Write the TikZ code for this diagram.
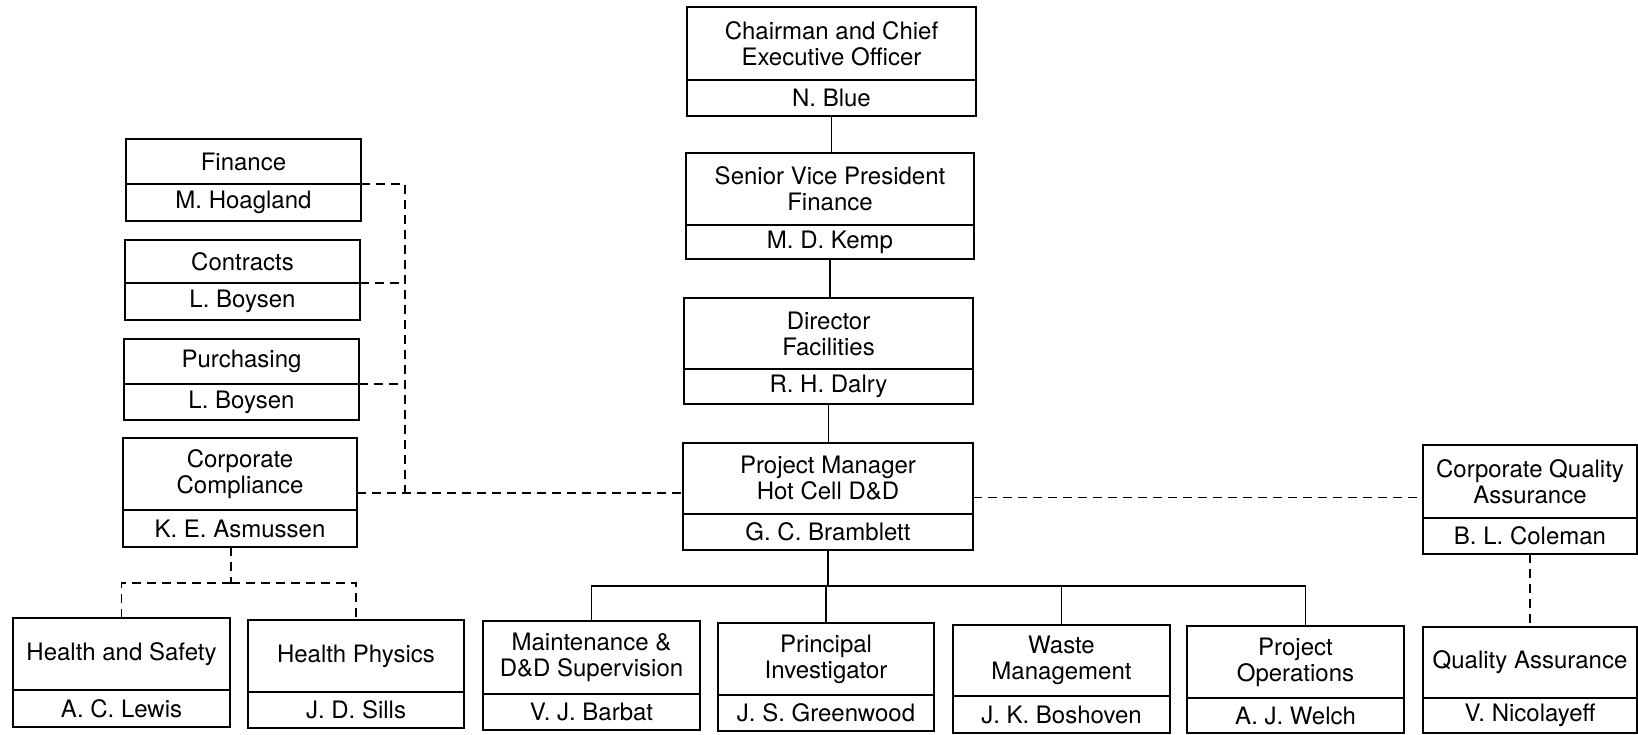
\documentclass[tikz,border=0pt]{standalone}
\usepackage{fontspec}
\setmainfont{TeX Gyre Heros}
\usepackage{tikz}
\usetikzlibrary{positioning}

\begin{document}
\begin{tikzpicture}[x=1pt,y=-1pt,line width=1.3pt,node distance=0pt,
                    font=\fontsize{24}{26}\selectfont,
                    box/.style={draw,align=center,inner sep=0pt,outer sep=0pt,
                                minimum width=#1},
                    head/.style={box=#1,anchor=north west},
                    reports/.style={dash pattern=on 9pt off 6pt}]

        \useasboundingbox (0,0) rectangle (1638,734);

        \node[head=289,minimum height=73] (chair) at (687,7) {Chairman and Chief\\Executive Officer};
        \node[box=289,minimum height=36] (chairn) [below=of chair] {N. Blue};
        \node[head=288,minimum height=72] (svp) at (686,153) {Senior Vice President\\Finance};
        \node[box=288,minimum height=34] (svpn) [below=of svp] {M. D. Kemp};
        \node[head=289,minimum height=71] (dir) at (684,298) {Director\\Facilities};
        \node[box=289,minimum height=35] (dirn) [below=of dir] {R. H. Dalry};
        \node[head=290,minimum height=71] (pm) at (683,443) {Project Manager\\Hot Cell D\&D};
        \node[box=290,minimum height=36] (pmn) [below=of pm] {G. C. Bramblett};

        \node[head=235,minimum height=45] (fin) at (126,139) {Finance};
        \node[box=235,minimum height=37] (finn) [below=of fin] {M. Hoagland};
        \node[head=235,minimum height=43] (con) at (125,240) {Contracts};
        \node[box=235,minimum height=37] (conn) [below=of con] {L. Boysen};
        \node[head=235,minimum height=45] (pur) at (124,339) {Purchasing};
        \node[box=235,minimum height=36] (purn) [below=of pur] {L. Boysen};
        \node[head=234,minimum height=72] (comp) at (123,438) {Corporate\\Compliance};
        \node[box=234,minimum height=37] (compn) [below=of comp] {K. E. Asmussen};

        \node[head=217,minimum height=72] (hs) at (13,618) {Health and Safety};
        \node[box=217,minimum height=37] (hsn) [below=of hs] {A. C. Lewis};
        \node[head=216,minimum height=72] (hp) at (248,620) {Health Physics};
        \node[box=216,minimum height=36] (hpn) [below=of hp] {J. D. Sills};

        \node[head=217,minimum height=73] (maint) at (483,621) {Maintenance \&\\D\&D Supervision};
        \node[box=217,minimum height=36] (maintn) [below=of maint] {V. J. Barbat};
        \node[head=216,minimum height=72] (pi) at (718,623) {Principal\\Investigator};
        \node[box=216,minimum height=36] (pin) [below=of pi] {J. S. Greenwood};
        \node[head=217,minimum height=71] (waste) at (953,625) {Waste\\Management};
        \node[box=217,minimum height=37] (wasten) [below=of waste] {J. K. Boshoven};
        \node[head=217,minimum height=72] (ops) at (1187,626) {Project\\Operations};
        \node[box=217,minimum height=35] (opsn) [below=of ops] {A. J. Welch};

        \node[head=214,minimum height=73] (cqa) at (1423,445) {Corporate Quality\\Assurance};
        \node[box=214,minimum height=36] (cqan) [below=of cqa] {B. L. Coleman};
        \node[head=214,minimum height=71] (qa) at (1423,627) {Quality Assurance};
        \node[box=214,minimum height=35] (qan) [below=of qa] {V. Nicolayeff};

        \draw (chairn.south) -- (chairn.south |- svp.north);
        \draw (svpn.south) -- (svpn.south |- dir.north);
        \draw (dirn.south) -- (dirn.south |- pm.north);

        \coordinate (bus) at ([yshift=-36pt]pmn.south);
        \draw (pmn.south) -- (bus);
        \draw (maint.north) |- (bus) -| ([xshift=10pt]ops.north);
        \draw (pi.north) -- (pi.north |- bus);
        \draw (waste.north) -- (waste.north |- bus);

        \coordinate (compR) at ([yshift=-19pt]comp.east);
        \coordinate (pmR) at ([yshift=-19pt]pm.east);
        \draw[reports] (compR) -- (compR -| pm.west);
        \draw[reports] (pmR) -- (pmR -| cqa.west);

        \coordinate (spine) at ([xshift=44pt]finn.north east);
        \draw[reports] (finn.north east) -- (spine) -- (spine |- compR);
        \draw[reports] (conn.north east) -- (conn.north east -| spine);
        \draw[reports] (purn.north east) -- (purn.north east -| spine);

        \coordinate (hdrop) at ([xshift=-9pt]compn.south);
        \coordinate (hbus) at ([yshift=-36pt]hdrop);
        \draw[reports] (hdrop) -- (hbus);
        \draw[reports] (hbus) -| (hs.north);
        \draw[reports] (hbus) -| (hp.north);

        \draw[reports] (cqan.south) -- (qa.north);

\end{tikzpicture}
\end{document}
